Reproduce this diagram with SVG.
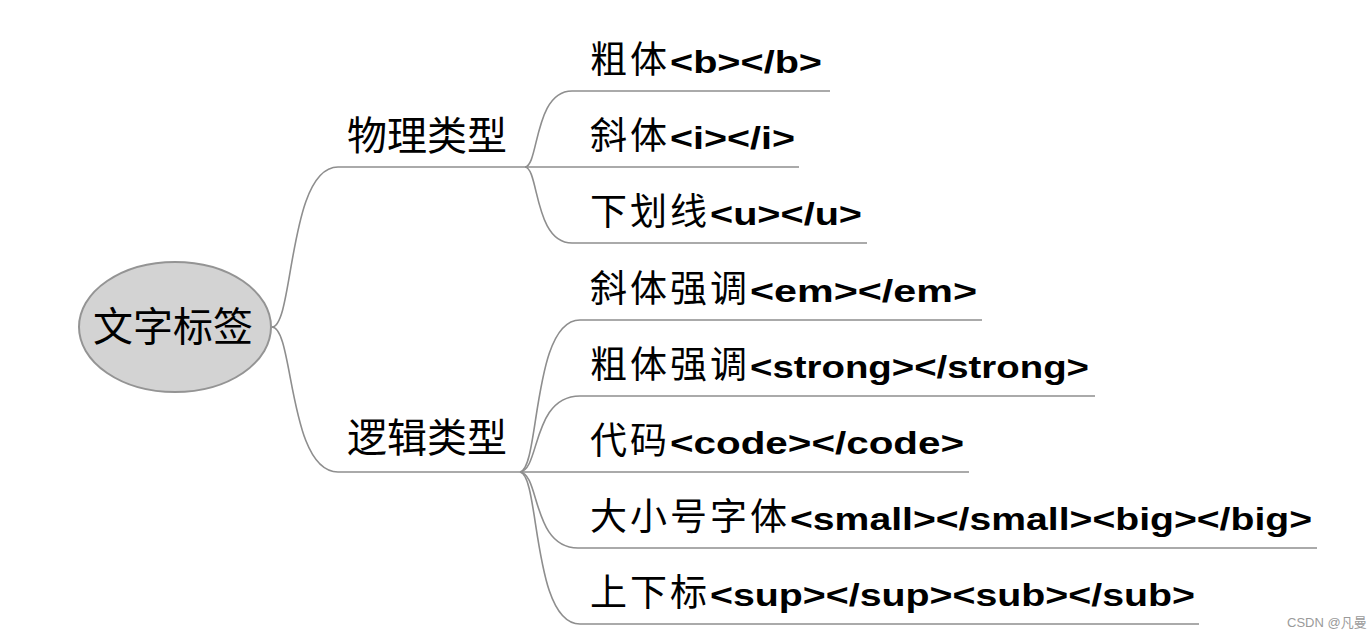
<svg xmlns="http://www.w3.org/2000/svg" width="1372" height="637" viewBox="0 0 1372 637">
<style>
.bg{fill:#ffffff}
.conn path{fill:none;stroke:#8e8e8e;stroke-width:1.6}
.root{fill:#d3d3d3;stroke:#949494;stroke-width:2}
.cjk{font-family:"Noto Sans CJK SC","Noto Sans CJK JP",sans-serif;fill:#000}
.big{font-size:40px}
.leaf{font-size:37px;letter-spacing:3px}
.lat{font-family:"Liberation Sans",Arial,sans-serif;font-weight:bold;font-size:32px;letter-spacing:0}
.wm{font-family:"Liberation Sans","Noto Sans CJK SC",sans-serif;font-size:13px;fill:#9a9a9a}
</style>
<rect class="bg" x="0" y="0" width="1372" height="637"/>
<g class="conn" id="connectors">
<path d="M272,327 C294,327 288,167 338,167 L527,167"/>
<path d="M272,327 C294,327 288,472 338,472 L521,472"/>
<path d="M525,167 C539,166 534,91 572,91 L830,91"/>
<path d="M525,167 L799,167"/>
<path d="M525,167 C539,168 534,243 572,243 L867,243"/>
<path d="M520,472 C540,469 532,320 580,320 L982,320"/>
<path d="M520,472 C540,470 532,396 580,396 L1095,396"/>
<path d="M520,472 L969,472"/>
<path d="M520,472 C540,474 532,548 578,548 L1317,548"/>
<path d="M520,472 C540,475 532,624 580,624 L1199,624"/>
</g>
<g id="root">
<ellipse class="root" cx="175" cy="327" rx="96" ry="65"/>
<text class="cjk big" x="93" y="341">文字标签</text>
</g>
<g id="physical">
<text class="cjk big" x="347" y="150">物理类型</text>
</g>
<g id="logical">
<text class="cjk big" x="347" y="452">逻辑类型</text>
</g>
<g id="n-b">
<text class="cjk leaf" x="590" y="73">粗体<tspan class="lat" x="670" textLength="152" lengthAdjust="spacingAndGlyphs">&lt;b&gt;&lt;/b&gt;</tspan></text>
</g>
<g id="n-i">
<text class="cjk leaf" x="590" y="149">斜体<tspan class="lat" x="670" textLength="125" lengthAdjust="spacingAndGlyphs">&lt;i&gt;&lt;/i&gt;</tspan></text>
</g>
<g id="n-u">
<text class="cjk leaf" x="590" y="225">下划线<tspan class="lat" x="710" textLength="152" lengthAdjust="spacingAndGlyphs">&lt;u&gt;&lt;/u&gt;</tspan></text>
</g>
<g id="n-em">
<text class="cjk leaf" x="590" y="302">斜体强调<tspan class="lat" x="750" textLength="227" lengthAdjust="spacingAndGlyphs">&lt;em&gt;&lt;/em&gt;</tspan></text>
</g>
<g id="n-strong">
<text class="cjk leaf" x="590" y="378">粗体强调<tspan class="lat" x="750" textLength="339" lengthAdjust="spacingAndGlyphs">&lt;strong&gt;&lt;/strong&gt;</tspan></text>
</g>
<g id="n-code">
<text class="cjk leaf" x="590" y="454">代码<tspan class="lat" x="670" textLength="294" lengthAdjust="spacingAndGlyphs">&lt;code&gt;&lt;/code&gt;</tspan></text>
</g>
<g id="n-small">
<text class="cjk leaf" x="590" y="530">大小号字体<tspan class="lat" x="790" textLength="522" lengthAdjust="spacingAndGlyphs">&lt;small&gt;&lt;/small&gt;&lt;big&gt;&lt;/big&gt;</tspan></text>
</g>
<g id="n-sup">
<text class="cjk leaf" x="590" y="606">上下标<tspan class="lat" x="710" textLength="485" lengthAdjust="spacingAndGlyphs">&lt;sup&gt;&lt;/sup&gt;&lt;sub&gt;&lt;/sub&gt;</tspan></text>
</g>
<text class="wm" x="1287" y="627">CSDN @凡曼</text>
</svg>
